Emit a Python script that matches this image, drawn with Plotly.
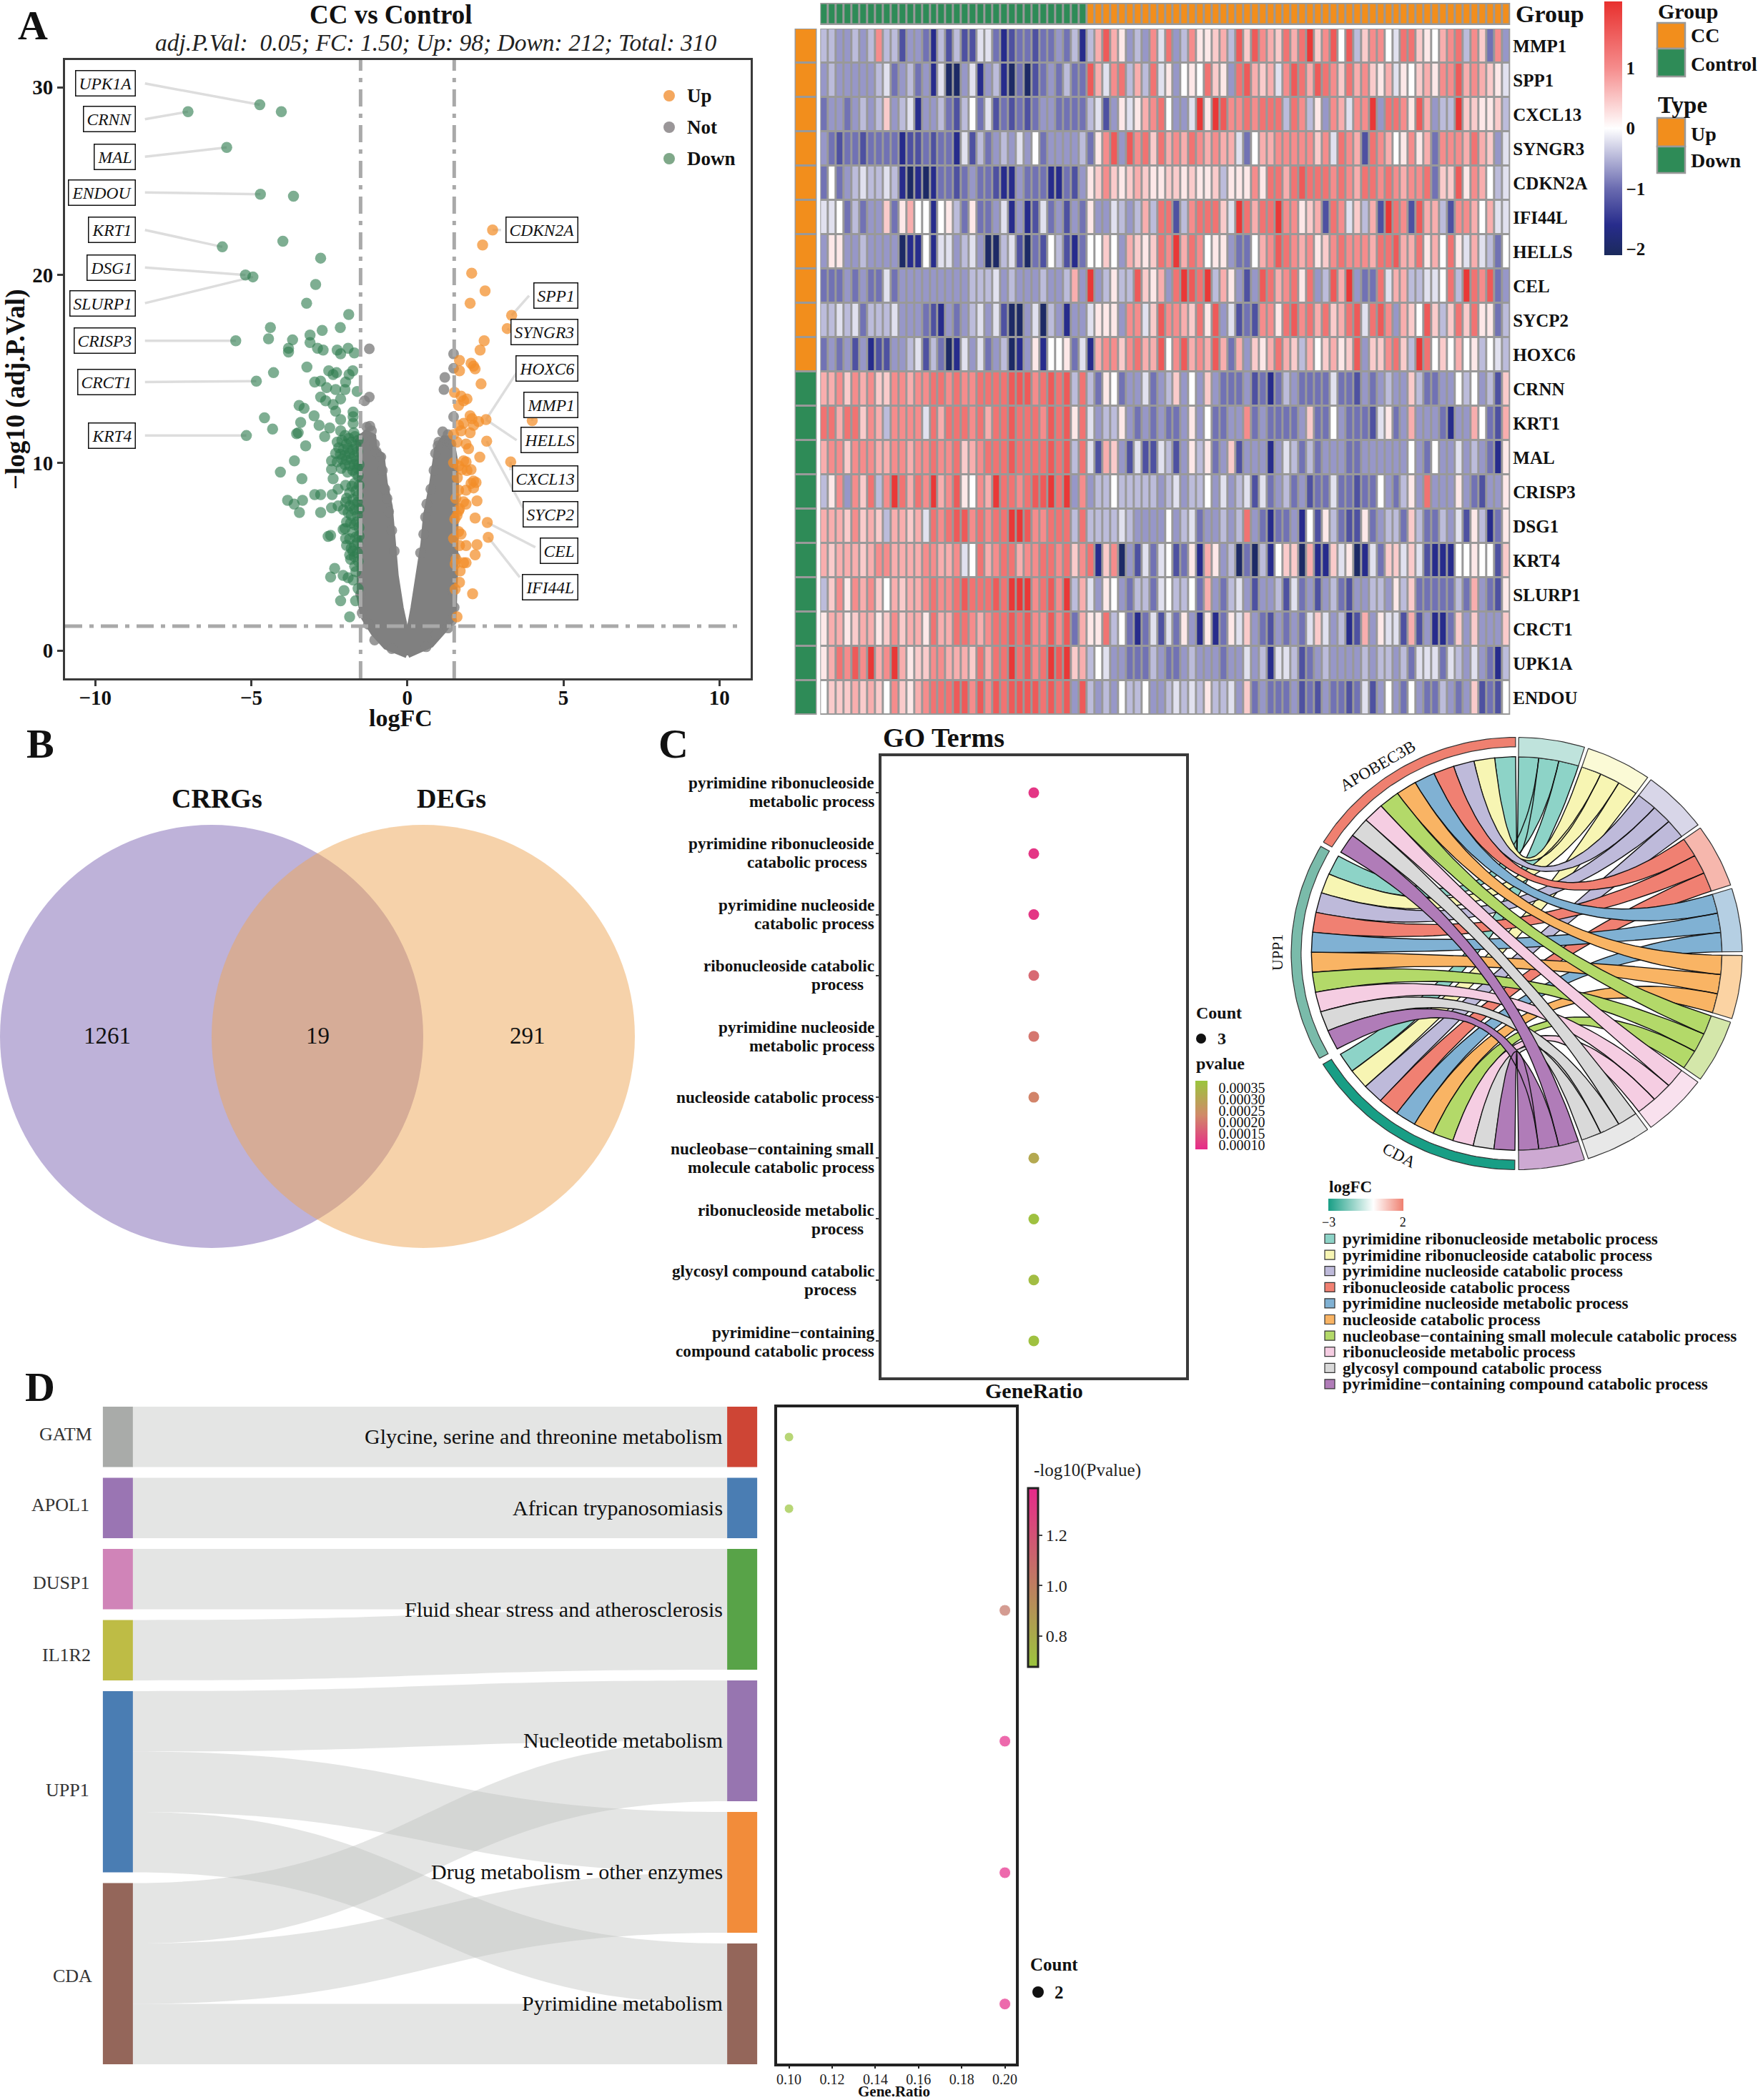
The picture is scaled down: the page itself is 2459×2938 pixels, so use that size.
import math
import plotly.graph_objects as go

W, H = 2459, 2938
SERIF = "Liberation Serif"

# ---------- Panel A: volcano data ----------
down_points = [
 (-4.73,29.07),(-4.04,28.7),(-7.03,28.7),(-5.79,26.8),(-4.71,24.3),(-3.65,24.2),(-5.93,21.5),(-3.99,21.8),(-2.78,20.9),
 (-5.19,20.0),(-4.95,19.9),(-2.94,19.5),(-3.23,18.5),(-1.88,17.9),(-2.15,17.2),(-2.73,17.05),(-4.39,17.2),(-4.45,16.6),
 (-5.5,16.5),(-3.12,16.8),(-3.68,16.55),(-3.12,16.4),(-3.81,16.1),(-3.81,15.9),(-2.88,16.1),(-2.7,16.0),(-2.25,16.0),
 (-2.14,15.8),(-1.9,16.1),(-1.7,15.85),(-3.22,15.1),(-4.29,14.8),(-2.52,14.9),(-2.38,14.7),(-2.27,14.8),(-1.75,14.9),
 (-1.87,14.7),(-1.98,14.3),(-2.97,14.3),(-2.78,14.35),(-2.59,14.0),(-2.3,13.9),(-2.0,13.9),(-1.61,13.8),(-2.78,13.5),
 (-2.62,13.3),(-2.14,13.4),(-2.38,13.1),(-3.47,13.05),(-3.31,12.9),(-2.3,12.75),(-1.74,12.7),(-1.74,12.45),(-2.99,12.5),
 (-4.58,12.4),(-2.14,12.3),(-3.42,12.15),(-1.74,12.1),(-2.83,12.0),(-2.49,11.85),(-4.32,11.8),(-2.14,11.7),(-3.55,11.55),
 (-3.5,11.6),(-2.65,11.4),(-5.16,11.45),(-4.84,14.35),(-3.26,10.9),(-3.62,10.1),(-2.43,10.1),(-2.43,9.65),(-4.07,9.5),
 (-3.38,9.15),(-2.38,9.15),(-1.98,8.8),(-2.22,8.6),(-2.97,8.3),(-2.78,8.3),(-2.41,8.3),(-3.84,8.0),(-3.36,8.0),(-3.63,7.8),
 (-3.46,7.35),(-2.78,7.35),(-2.43,7.6),(-2.22,7.7),(-1.98,7.9),
 (-2.25,11.1),(-2.1,11.2),(-1.95,11.0),(-1.8,11.1),(-1.65,10.9),(-2.2,10.8),(-2.05,10.7),(-1.9,10.75),(-1.75,10.7),
 (-1.6,10.6),(-2.3,10.5),(-2.15,10.45),(-2.0,10.4),(-1.85,10.5),(-1.7,10.35),(-2.1,10.2),(-1.95,10.15),(-1.8,10.2),
 (-1.62,10.1),(-2.0,9.9),(-1.85,9.85),(-1.7,9.9),(-1.6,9.7),(-2.25,10.05),(-1.75,9.6),
 (-1.7,8.9),(-1.65,8.5),(-1.85,8.4),(-1.95,8.1),(-1.75,8.05),(-1.6,7.9),(-1.85,7.7),(-1.7,7.5),(-2.05,7.5),(-1.6,7.2),
 (-1.8,7.2),(-1.95,6.85),(-1.7,6.7),(-2.0,6.5),(-1.75,6.3),(-1.55,6.1),(-1.85,5.95),(-1.95,5.6),(-1.7,5.6),(-1.75,5.3),
 (-1.6,5.2),(-1.85,5.1),(-1.82,6.8),(-2.06,6.45),(-2.54,6.08),(-2.46,6.13),(-1.98,5.96),(-2.33,4.37),(-2.46,3.92),
 (-2.06,4.0),(-1.74,3.75),(-1.9,3.88),(-1.58,3.3),(-2.03,3.19),(-2.14,2.65),(-1.66,2.65),(-1.85,1.79),(-1.69,4.49),(-1.82,4.86),
 (-1.58,9.3),(-1.66,9.45),(-1.92,9.5),(-2.12,9.7),(-1.55,8.8),(-1.78,8.75),(-1.58,8.25),(-1.72,7.75),(-1.55,7.55),(-1.9,7.35),
 (-1.62,6.85),(-1.55,6.55),(-1.65,6.05),(-1.6,5.75),(-1.8,5.45),(-1.58,4.75),(-1.65,4.2),(-1.7,5.0),(-1.55,9.9),(-1.68,11.4),
 (-1.88,11.3),(-2.0,11.45),(-1.58,11.2),(-1.72,11.6),
]
up_points = [
 (2.73,22.4),(2.41,21.6),(2.06,20.1),(2.49,19.15),(2.01,18.5),(3.34,17.85),(3.2,17.15),(2.46,16.5),(2.33,16.0),(1.67,15.45),
 (2.04,15.3),(2.12,15.15),(2.17,15.0),(1.67,14.9),(2.36,14.2),(1.51,13.75),(1.72,13.55),(1.91,13.4),(1.8,13.3),(1.64,13.05),
 (2.01,12.5),(2.07,12.35),(2.28,12.2),(2.52,12.3),(4.0,12.24),(1.8,12.1),(1.64,12.0),(2.12,12.0),(1.48,11.5),(1.72,11.7),
 (2.01,11.6),(2.54,11.15),(1.88,11.0),(1.59,11.1),(1.96,10.75),(2.32,10.3),(1.8,10.1),(3.31,10.05),(1.88,10.05),(1.48,10.0),
 (1.64,9.84),(2.04,9.64),(1.75,9.64),(1.91,9.59),(2.12,9.03),(2.04,8.9),(2.2,8.95),(2.12,8.66),(1.64,8.54),(1.88,8.54),
 (2.23,7.97),(1.8,7.92),(1.67,7.55),(1.88,7.8),(1.64,7.43),(2.17,7.06),(2.56,6.82),(1.59,7.19),(1.72,6.2),(2.59,6.03),
 (1.67,5.59),(1.88,5.59),(2.23,5.64),(2.17,5.1),(1.56,4.86),(1.8,4.68),(1.88,4.68),(1.53,4.61),(1.69,4.24),(1.67,3.63),
 (1.53,3.26),(2.09,3.02),(1.59,1.79),(1.64,6.33),(1.48,5.96),(1.55,8.1),(1.6,9.2),(1.52,7.0),
]
not_outline_left = [
 (-0.02,-0.25),(-0.69,0.2),(-1.09,0.93),(-1.41,1.79),(-1.53,2.77),(-1.53,5.22),(-1.53,7.68),(-1.53,10.13),(-1.58,11.2),
 (-1.33,11.6),(-1.09,11.4),(-1.05,10.74),(-0.82,10.38),(-0.72,8.9),(-0.56,7.68),(-0.45,5.7),(-0.37,4.0),(-0.21,2.28),(-0.02,0.81),
]
not_outline_right = [
 (0.02,-0.25),(0.76,0.3),(1.16,1.05),(1.48,1.79),(1.53,4.0),(1.56,6.5),(1.56,8.9),(1.53,10.13),(1.4,11.3),(1.16,11.3),
 (0.95,10.74),(0.79,8.9),(0.59,7.17),(0.51,5.7),(0.35,3.7),(0.19,2.28),(0.03,0.81),
]
not_points = [
 (-1.22,16.07),(-1.22,13.5),(-1.37,13.3),(1.48,15.8),(1.48,15.03),(1.2,14.55),(1.17,13.9),(1.48,12.45),(1.13,11.65),(1.01,11.1),
 (1.16,11.1),(-1.05,0.56),(0.92,0.86),(-1.3,11.9),(-1.15,11.7),(-1.0,10.6),(-0.85,10.3),(-0.8,9.6),(-0.72,8.6),(-0.65,8.1),
 (-0.6,7.4),(-0.5,6.4),(-0.42,5.3),(0.9,10.5),(0.85,9.6),(0.75,8.6),(0.62,7.8),(0.58,7.1),(0.52,6.2),(0.42,5.2),(-1.5,3.0),
 (-1.45,2.0),(-1.25,1.4),(1.5,2.3),(1.42,1.6),(1.3,1.2),(0.6,0.2),(-0.5,0.1),(1.45,3.2),(1.52,5.0),(-1.2,11.95),(-1.45,11.3),
 (-1.05,11.0),(1.3,11.5),(1.4,11.0),(0.98,10.9),
]
vline_values = [-1.5, 1.5]
hline_value = 1.3
left_labels = ["UPK1A","CRNN","MAL","ENDOU","KRT1","DSG1","SLURP1","CRISP3","CRCT1","KRT4"]
left_label_y = [30.2,28.3,26.3,24.4,22.4,20.4,18.5,16.5,14.3,11.45]
left_target = [(-4.73,29.07),(-7.03,28.7),(-5.79,26.8),(-4.71,24.3),(-5.93,21.5),(-5.19,20.0),(-4.95,19.9),(-5.5,16.5),(-4.84,14.35),(-5.16,11.45)]
right_labels = ["CDKN2A","SPP1","SYNGR3","HOXC6","MMP1","HELLS","CXCL13","SYCP2","CEL","IFI44L"]
right_label_y = [22.4,18.9,16.95,15.03,13.1,11.2,9.17,7.26,5.32,3.38]
right_target = [(2.73,22.4),(3.34,17.85),(3.2,17.15),(2.52,12.3),(4.0,12.24),(2.52,12.3),(3.31,10.05),(2.54,11.15),(2.56,6.82),(2.59,6.03)]
right_seg_end = [(3.0,22.4),(3.9,18.9),(3.4,16.95),(3.5,14.8),(4.0,12.7),(3.5,11.2),(3.3,9.6),(3.7,7.6),(4.1,5.5),(3.6,3.9)]

# ---------- Panel A: heatmap data ----------
genes = ["MMP1","SPP1","CXCL13","SYNGR3","CDKN2A","IFI44L","HELLS","CEL","SYCP2","HOXC6",
         "CRNN","KRT1","MAL","CRISP3","DSG1","KRT4","SLURP1","CRCT1","UPK1A","ENDOU"]
gene_type = ["Up"]*10 + ["Down"]*10
sample_group = ["Control"]*34 + ["CC"]*54
level_values = {"0":-2.0,"1":-1.6,"2":-1.25,"3":-0.95,"4":-0.7,"5":-0.45,"6":-0.2,"7":0.0,"8":0.2,
                "9":0.45,"a":0.7,"b":1.0,"c":1.3,"d":1.6,"e":2.0}
heat_MMP1 = "5544545b55"+"2443152522"+"6631233233"+"4351"+"5ada8454b6c45b889a5d9dba9cac"+"e9bd7d59bb76cc987abc5b93b4"
heat_SPP1 = "4544444563"+"4534160046"+"1451030234"+"3533"+"da6bc5a5c684787c984cda9a6bdc"+"adcb9cab98a6879a8bbdaba986"
heat_CXCL13 = "3443454594"+"5614453257"+"3623232344"+"3333"+"5624868abc7446e8edbbcbccc5cb"+"584ba6bbe4ccb8da455e998895"
heat_SYNGR3 = "4323323333"+"1223233162"+"5345464734"+"4445"+"38bd4dbc9cabacbabaa637aabbbb"+"b9b6cba2cba78b8a3bbbaca946"
heat_CDKN2A = "3734565565"+"1010133234"+"3321143331"+"1324"+"89b989a98899898895888b8ccacd"+"cccbcbaccbcbabbc399d8ba756"
heat_IFI44L = "6673534493"+"8a77178538"+"3346141263"+"4243"+"8446545a5cc25bccc96ecaccebb8"+"9a2cb695a2ecb2daa52bba7a66"
heat_HELLS = "4884454444"+"0117166456"+"4005620327"+"5213"+"77974a989cbeacb7884337abdcba"+"b89bcbbbaccdaac8a7c86a6537"
heat_CEL = "3334343363"+"4444444445"+"5564544454"+"45a4"+"e45855d98a4cedce5a8424dcabc8"+"c45dae433c6aa55667c5ecbd34"
heat_SYCP2 = "5565635556"+"4443214345"+"6462004605"+"4144"+"68884bb69dbba9c8d46232bb8cdb"+"cac9acd6cdb4a97d959c9c8835"
heat_HOXC6 = "3434241224"+"4562530164"+"6345014817"+"7836"+"1abb9bcaad7bdabada3a498aca95"+"a79a89d499bc95ec797a785765"
heat_CRNN = "aab9bab99b"+"babbccbcbb"+"ccccdddbcd"+"cd5c"+"5387344634594749433342313543"+"33363324345449533447574529"
heat_KRT1 = "ccacc9ba5b"+"bbb6cacccb"+"caccdcccbd"+"cd8c"+"64558434343348473344b3433334"+"9337433326834a4443144a732a"
heat_MAL = "abb9bbbaab"+"babbcbbc9a"+"bcccdccccd"+"cd5c"+"62a9426226524858349244414653"+"53444334444447437446454318"
heat_CRISP3 = "58b4b9c5be"+"cacbeabd87"+"baeccbcdde"+"ce4b"+"4557555554564557464562634534"+"233633233743584c4448432448"
heat_DSG1 = "aaa9b9a95a"+"a9a6cbcddb"+"cbcceedbbc"+"cc5c"+"55556544447456344545c4313341"+"72853228345539533546285138"
heat_KRT4 = "a9aaa9abba"+"aaabbaab67"+"cabccabbcc"+"bc9b"+"c19b04263672381a845030517990"+"a1196801639969621117787729"
heat_SLURP1 = "59b8bab97a"+"9aabcbbcdc"+"ccdceeebcd"+"be5a"+"648743553675573a435642445263"+"424532445548593333353a4328"
heat_CRCT1 = "8aa89aa89b"+"9aa8caaccb"+"abccdcdbbd"+"bd3a"+"88c5731362638418138694324343"+"6964512a48662a241139494449"
heat_UPK1A = "8acbdbeabe"+"a899bbaaa9"+"caccecdbce"+"de9a"+"5764433354334544434464516652"+"34544445455453666365464315"
heat_ENDOU = "7999a9a97b"+"98abcccddb"+"dbdcddddcd"+"cd4d"+"5454755744565658556493433342"+"32433236247437433543492327"
heat_rows = [heat_MMP1,heat_SPP1,heat_CXCL13,heat_SYNGR3,heat_CDKN2A,heat_IFI44L,heat_HELLS,heat_CEL,heat_SYCP2,heat_HOXC6,
             heat_CRNN,heat_KRT1,heat_MAL,heat_CRISP3,heat_DSG1,heat_KRT4,heat_SLURP1,heat_CRCT1,heat_UPK1A,heat_ENDOU]

# ---------- Panel B ----------
venn_sets = ["CRRGs","DEGs"]
venn_counts = [1261, 19, 291]

# ---------- Panel C ----------
go_labels = [["pyrimidine ribonucleoside","metabolic process"],["pyrimidine ribonucleoside","catabolic process"],
 ["pyrimidine nucleoside","catabolic process"],["ribonucleoside catabolic","process"],["pyrimidine nucleoside","metabolic process"],
 ["nucleoside catabolic process"],["nucleobase−containing small","molecule catabolic process"],["ribonucleoside metabolic","process"],
 ["glycosyl compound catabolic","process"],["pyrimidine−containing","compound catabolic process"]]
go_second_line_inset = [0,10,0,15,0,0,0,15,25,0]
go_ratio = [0.3]*10
go_pvalue = [0.0001,0.0001,0.0001,0.00018,0.00020,0.00022,0.00031,0.00037,0.00036,0.00037]
go_terms = ["pyrimidine ribonucleoside metabolic process","pyrimidine ribonucleoside catabolic process",
 "pyrimidine nucleoside catabolic process","ribonucleoside catabolic process","pyrimidine nucleoside metabolic process",
 "nucleoside catabolic process","nucleobase−containing small molecule catabolic process","ribonucleoside metabolic process",
 "glycosyl compound catabolic process","pyrimidine−containing compound catabolic process"]
term_colors = ["#8DD3C7","#F7F5B3","#BEBADA","#F08072","#80B1D3","#F9B464","#B3D969","#F5CDE2","#D9D9D9","#B07CB8"]
term_band_colors = ["#BFE3DC","#FBFAD6","#D8D6E8","#F6B7AD","#B5CFE3","#FBD3A3","#D4E7AA","#F9E1EE","#E8E8E8","#CDA9D2"]
chord_genes = ["APOBEC3B","UPP1","CDA"]
chord_logfc = [2.0,-1.4,-3.0]
chord_gene_colors = ["#EF8070","#7ABBAA","#189E85"]
chord_gene_start = [301.0,241.0,180.5]
chord_gene_span = 58.7

# ---------- Panel D ----------
sankey_nodes_left = ["GATM","APOL1","DUSP1","IL1R2","UPP1","CDA"]
sankey_nodes_right = ["Glycine, serine and threonine metabolism","African trypanosomiasis","Fluid shear stress and atherosclerosis",
                      "Nucleotide metabolism","Drug metabolism - other enzymes","Pyrimidine metabolism"]
sankey_source = [0,1,2,3,4,4,4,5,5,5]
sankey_target = [6,7,8,8,9,10,11,9,10,11]
sankey_value = [1]*10
sankey_left_size = [1,1,1,1,3,3]
sankey_right_size = [1,1,2,2,2,2]
sankey_colors = ["#A9ABA9","#9A75B3","#D084B8","#BEBC45","#4A7DB3","#94665A","#CE4535","#4A7DB3","#58A348","#9775B0","#F28C3A","#94665A"]
kegg_ratio = [0.10,0.10,0.20,0.20,0.20,0.20]
kegg_logp = [0.68,0.68,1.05,1.38,1.38,1.38]
kegg_count = [1,1,2,2,2,2]
kegg_pos = [2010.5,2110.7,2253,2436,2620,2803.7]

# ---------- helpers ----------
fig = go.Figure()
annotations, shapes = [], []

def px(x): return x / W
def py(y): return 1 - y / H

def text(x, y, s, size, bold=False, anchor="left", color="#111", italic=False, angle=0, family=SERIF, vanchor="middle"):
    annotations.append(dict(x=px(x), y=py(y), xref="paper", yref="paper", text=s, showarrow=False, xanchor=anchor,
                            yanchor=vanchor, textangle=angle, borderpad=0,
                            font=dict(family=family, size=size, color=color, weight=700 if bold else 400,
                                      style="italic" if italic else "normal")))

def rect(x0, y0, x1, y1, fill, line="rgba(0,0,0,0)", lw=0, layer="above"):
    shapes.append(dict(type="rect", xref="paper", yref="paper", x0=px(x0), x1=px(x1), y0=py(y0), y1=py(y1),
                       fillcolor=fill, line=dict(color=line, width=lw), layer=layer))

def circle(cx, cy, rx, fill, ry=None, layer="above"):
    ry = rx if ry is None else ry
    shapes.append(dict(type="circle", xref="paper", yref="paper", x0=px(cx-rx), x1=px(cx+rx), y0=py(cy-ry), y1=py(cy+ry),
                       fillcolor=fill, line=dict(width=0), layer=layer))

def axes(n, x0, y0, x1, y1, xkw, ykw):
    sx = "" if n == 1 else str(n)
    base = dict(showgrid=False, zeroline=False)
    fig.update_layout(**{
        f"xaxis{sx}": dict(base, domain=[px(x0), px(x1)], anchor=f"y{sx}", **xkw),
        f"yaxis{sx}": dict(base, domain=[py(y1), py(y0)], anchor=f"x{sx}", **ykw),
    })

hidden = dict(visible=False)
def framed(color="#3a3a3a", width=3):
    return dict(showline=True, linecolor=color, linewidth=width, mirror=True)

# ---------- A: volcano ----------
axes(1, 91, 84, 1050, 949,
     dict(range=[-10.97, 11.0], tickvals=[-10,-5,0,5,10], ticks="outside", ticklen=8, tickwidth=3, tickcolor="#3a3a3a", ticklabelstandoff=-9,
          tickfont=dict(family=SERIF, size=29, color="#111", weight=700), **framed()),
     dict(range=[-1.48, 31.45], tickvals=[0,10,20,30], ticks="outside", ticklen=8, tickwidth=3, tickcolor="#3a3a3a",
          tickfont=dict(family=SERIF, size=29, color="#111", weight=700), **framed()))

segx, segy = [], []
for (tx, ty), ly in zip(left_target, left_label_y):
    segx += [-8.41, tx, None]; segy += [ly, ty, None]
for (tx, ty), (ex, ey) in zip(right_target, right_seg_end):
    segx += [tx, ex, None]; segy += [ty, ey, None]
fig.add_trace(go.Scatter(x=segx, y=segy, mode="lines", line=dict(color="#DDDDDD", width=3.5), hoverinfo="skip", showlegend=False))
for outline in (not_outline_left, not_outline_right):
    ox, oy = zip(*outline)
    fig.add_trace(go.Scatter(x=list(ox)+[ox[0]], y=list(oy)+[oy[0]], mode="lines", fill="toself", fillcolor="#808080",
                             line=dict(color="#808080", width=8), hoverinfo="skip", showlegend=False))
nx, ny = zip(*not_points)
fig.add_trace(go.Scatter(x=nx, y=ny, mode="markers", marker=dict(size=15, color="rgba(128,128,128,0.8)"), hoverinfo="skip", showlegend=False))
dx, dy = zip(*down_points)
fig.add_trace(go.Scatter(x=dx, y=dy, mode="markers", marker=dict(size=15.5, color="rgba(46,125,79,0.62)"), hoverinfo="skip", showlegend=False))
ux, uy = zip(*up_points)
fig.add_trace(go.Scatter(x=ux, y=uy, mode="markers", marker=dict(size=15.5, color="rgba(243,142,40,0.72)"), hoverinfo="skip", showlegend=False))
DASH = "24px,10px,6px,10px"
vx, vy = [], []
for v in vline_values:
    vx += [v, v, None]; vy += [-1.48, 31.45, None]
fig.add_trace(go.Scatter(x=vx, y=vy, mode="lines", line=dict(color="#A9A9A9", width=5, dash=DASH), hoverinfo="skip", showlegend=False))
fig.add_trace(go.Scatter(x=[-10.97, 10.7], y=[hline_value]*2, mode="lines", line=dict(color="#A9A9A9", width=5, dash=DASH), hoverinfo="skip", showlegend=False))
for names, ys, xr in ((left_labels, left_label_y, -8.7), (right_labels, right_label_y, 5.47)):
    for name, ly in zip(names, ys):
        annotations.append(dict(x=xr, y=ly, xref="x", yref="y", text=name, showarrow=False, xanchor="right", yanchor="middle",
                                bgcolor="white", bordercolor="#111", borderwidth=1.5, borderpad=4,
                                font=dict(family=SERIF, size=23.5, style="italic", color="#111")))
text(24, 35, "A", 58, True)
text(547, 21, "CC vs Control", 37, True, "center")
text(610, 60, "adj.P.Val:  0.05; FC: 1.50; Up: 98; Down: 212; Total: 310", 33.5, False, "center", italic=True, color="#222")
text(560, 1004, "logFC", 34, True, "center")
text(22, 545, "−log10 (adj.P.Val)", 37, True, "center", angle=-90)
for yy, name, col in ((134, "Up", "#F4A75E"), (178, "Not", "#9A9698"), (222, "Down", "#7FA889")):
    circle(936, yy, 8, col)
    text(960, yy, name, 27, True)

# ---------- A: heatmap ----------
HX0, HX1 = 1147.3, 2112.3
rect(HX0, 40, HX1, 1000, "#999999", layer="below")
rect(HX0, 4, HX1, 35, "#999999", layer="below")
rect(1111.5, 40, 1142.5, 1000, "#999999", layer="below")
z_main = [[level_values[c] for c in r] for r in heat_rows]
heat_scale = [[0,"#1B2A5C"],[0.119,"#272C8C"],[0.262,"#6A6BB0"],[0.5,"#FFFFFF"],[0.738,"#F58C8C"],[1,"#E8302E"]]
fig.add_trace(go.Heatmap(z=z_main, x=list(range(88)), y=genes, xaxis="x2", yaxis="y2", colorscale=heat_scale, zmin=-2.1, zmax=2.1,
                         xgap=3, ygap=3, hoverinfo="skip",
                         colorbar=dict(x=px(2244), xanchor="left", y=py(2), yanchor="top", xpad=0, ypad=0, len=355, lenmode="pixels",
                                       thickness=25, thicknessmode="pixels", outlinewidth=0, tickvals=[-2,-1,0,1,2], ticks="",
                                       tickfont=dict(family=SERIF, size=25, color="#111", weight=700))))
axes(2, HX0, 40, HX1, 1000, hidden,
     dict(side="right", autorange="reversed", type="category", ticks="", showline=False, ticklabelstandoff=3,
          tickfont=dict(family=SERIF, size=25, color="#111", weight=700)))
ann_scale = [[0,"#2E8B57"],[1,"#F28E1C"]]
fig.add_trace(go.Heatmap(z=[[1 if g == "CC" else 0 for g in sample_group]], x=list(range(88)), xaxis="x3", yaxis="y3", colorscale=ann_scale,
                         zmin=0, zmax=1, xgap=3, ygap=1, showscale=False, hoverinfo="skip"))
axes(3, HX0, 5.5, HX1, 33.5, hidden, hidden)
fig.add_trace(go.Heatmap(z=[[1 if t == "Up" else 0] for t in gene_type], y=genes, x=[0], xaxis="x4", yaxis="y4", colorscale=ann_scale,
                         zmin=0, zmax=1, xgap=0, ygap=3, showscale=False, hoverinfo="skip"))
axes(4, 1113, 40, 1141, 1000, hidden, dict(visible=False, autorange="reversed", type="category"))
text(2119, 20, "Group", 34, True)
text(2318, 15, "Group", 30, True)
rect(2318, 32, 2357, 68, "#F28E1C", "#999999", 2.5)
rect(2318, 68, 2357, 107, "#2E8B57", "#999999", 2.5)
text(2364, 50, "CC", 28, True)
text(2364, 90, "Control", 28, True)
text(2318, 147, "Type", 33, True)
rect(2318, 165, 2357, 205, "#F28E1C", "#999999", 2.5)
rect(2318, 205, 2357, 242, "#2E8B57", "#999999", 2.5)
text(2364, 187, "Up", 28, True)
text(2364, 224, "Down", 28, True)

# ---------- B: venn ----------
circle(296, 1450, 296, "#BEB2D9")
circle(592, 1450, 296, "rgba(237,165,85,0.5)")
text(303, 1117, venn_sets[0], 38, True, "center")
text(631, 1117, venn_sets[1], 38, True, "center")
for xx, c in zip((150, 444, 738), venn_counts):
    text(xx, 1449, str(c), 33, False, "center")
text(56, 1040, "B", 58, True, "center")

# ---------- C: GO dot plot ----------
axes(6, 1233, 1058, 1659, 1927, dict(visible=True, showticklabels=False, ticks="", range=[0.2, 0.4], **framed(width=4)),
     dict(autorange=False, range=[9.6, -0.6], tickvals=list(range(10)), showticklabels=False, ticks="outside", ticklen=4, tickwidth=2,
          tickcolor="#3a3a3a", **framed(width=4)))
fig.add_trace(go.Scatter(x=go_ratio, y=list(range(10)), mode="markers", xaxis="x6", yaxis="y6", hoverinfo="skip", showlegend=False,
                         marker=dict(size=15, color=go_pvalue, cmin=0.00008, cmax=0.00038,
                                     colorscale=[[0,"#E7298A"],[0.5,"#D08A68"],[1,"#9BC53D"]],
                                     colorbar=dict(x=px(1672), xanchor="left", y=py(1512), yanchor="top", xpad=0, ypad=0, len=96, lenmode="pixels",
                                                   thickness=17, thicknessmode="pixels", outlinewidth=0, ticks="outside", ticklen=12, tickcolor="rgba(0,0,0,0)",
                                                   tickvals=[0.0001,0.00015,0.0002,0.00025,0.0003,0.00035],
                                                   ticktext=["0.00010","0.00015","0.00020","0.00025","0.00030","0.00035"],
                                                   tickfont=dict(family=SERIF, size=20, color="#111")))))
for i, lines in enumerate(go_labels):
    cy = 1108 + i * 85.4
    if len(lines) == 1:
        text(1224, cy, lines[0], 23.2, True, "right")
    else:
        text(1224, cy - 13, lines[0], 23.2, True, "right")
        text(1224 - go_second_line_inset[i], cy + 13, lines[1], 23.2, True, "right")
text(1234, 1032, "GO Terms", 38, True)
text(1446, 1945, "GeneRatio", 30, True, "center")
text(942, 1040, "C", 58, True, "center")
text(1672, 1417, "Count", 24, True)
circle(1680, 1453, 7, "#111")
text(1702, 1453, "3", 24, True)
text(1672, 1488, "pvalue", 24, True)

# ---------- C: chord ----------
CX, CY, RX, RY = 2121.5, 1334, 315.5, 302.5
X0, X1, Y0, Y1 = 1790, 2453, 1020, 1648
axes(7, X0, Y0, X1, Y1, dict(visible=False, range=[(X0-CX)/RX, (X1-CX)/RX]), dict(visible=False, range=[(CY-Y1)/RY, (CY-Y0)/RY]))

def pt(theta, r):
    t = math.radians(theta)
    return r * math.sin(t), r * math.cos(t)

def arc(t0, t1, r, n=12):
    return [pt(t0 + (t1 - t0) * i / n, r) for i in range(n + 1)]

def bez(p0, p1, n=40):
    out = []
    for i in range(n + 1):
        s = i / n
        out.append(((1 - s) ** 2 * p0[0] + s ** 2 * p1[0], (1 - s) ** 2 * p0[1] + s ** 2 * p1[1]))
    return out

R_IN = 0.91
gene_slice = chord_gene_span / 10
for ti, term in enumerate(go_terms):
    tstart = ti * 18 + 0.5
    xs, ys = [], []
    for gi in range(3):
        a0 = tstart + gi * 17 / 3
        a1 = a0 + 17 / 3
        g0 = chord_gene_start[gi] + (9 - ti) * gene_slice
        g1 = g0 + gene_slice
        poly = arc(a0, a1, R_IN) + bez(pt(a1, R_IN), pt(g0, R_IN)) + arc(g0, g1, R_IN) + bez(pt(g1, R_IN), pt(a0, R_IN))
        xs += [p[0] for p in poly] + [poly[0][0], None]
        ys += [p[1] for p in poly] + [poly[0][1], None]
    fig.add_trace(go.Scatter(x=xs, y=ys, mode="lines", fill="toself", fillcolor=term_colors[ti], line=dict(color="#111", width=1.4),
                             xaxis="x7", yaxis="y7", hoverinfo="skip", showlegend=False))
    band = arc(tstart, tstart + 17, 1.0) + arc(tstart + 17, tstart, R_IN)
    fig.add_trace(go.Scatter(x=[p[0] for p in band]+[band[0][0]], y=[p[1] for p in band]+[band[0][1]], mode="lines", fill="toself",
                             fillcolor=term_band_colors[ti], line=dict(color="#333", width=1.2), xaxis="x7", yaxis="y7", hoverinfo="skip", showlegend=False))
for gi, g in enumerate(chord_genes):
    s = chord_gene_start[gi]
    band = arc(s, s + chord_gene_span, 1.0, 40) + arc(s + chord_gene_span, s, 0.956, 40)
    fig.add_trace(go.Scatter(x=[p[0] for p in band]+[band[0][0]], y=[p[1] for p in band]+[band[0][1]], mode="lines", fill="toself",
                             fillcolor=chord_gene_colors[gi], line=dict(color="#333", width=1.2), xaxis="x7", yaxis="y7", hoverinfo="skip", showlegend=False))
fig.add_trace(go.Scatter(x=[0,0,0], y=[0,0,0], mode="markers", xaxis="x7", yaxis="y7", hoverinfo="skip", showlegend=False,
                         marker=dict(size=0.1, color=chord_logfc, cmin=-3, cmax=2,
                                     colorscale=[[0,"#189E85"],[0.6,"#FFFFFF"],[1,"#EF8070"]],
                                     colorbar=dict(orientation="h", x=px(1858), xanchor="left", y=py(1677), yanchor="top", xpad=0, ypad=0,
                                                   len=105, lenmode="pixels", thickness=17, thicknessmode="pixels", outlinewidth=0, ticks="",
                                                   tickvals=[-2.97,1.97], ticktext=["−3","2"], tickfont=dict(family=SERIF, size=18, color="#111")))))
text(1927, 1071, "APOBEC3B", 23, False, "center", angle=-30)
text(1786, 1333, "UPP1", 22, False, "center", angle=-90)
text(1957, 1616, "CDA", 23, False, "center", angle=28)
text(1858, 1660, "logFC", 23, True)
for i, term in enumerate(go_terms):
    yy = 1733 + i * 22.6
    rect(1853, yy - 6.5, 1867, yy + 6.5, term_colors[i], "#333", 1.2)
    text(1877, yy, term, 23.2, True)

# ---------- D: sankey ----------
SX0, SX1, SY0, SY1, THICK, PAD = 143, 1060, 1968, 2888, 42, 15
SPAN = SY1 - SY0
unit = (SPAN - 5 * PAD) / 10
def centers(sizes):
    out, top = [], 0.0
    for s in sizes:
        out.append((top + s * unit / 2) / SPAN)
        top += s * unit + PAD
    return out
node_y = centers(sankey_left_size) + centers(sankey_right_size)
fig.add_trace(go.Sankey(arrangement="fixed", domain=dict(x=[px(SX0 + THICK/2), px(SX1 - THICK/2)], y=[py(SY1), py(SY0)]), hoverinfo="skip",
                        node=dict(pad=PAD, thickness=THICK, label=[""]*12, color=sankey_colors, line=dict(width=0),
                                  x=[0.001]*6 + [0.999]*6, y=node_y, hoverinfo="skip"),
                        link=dict(source=sankey_source, target=sankey_target, value=sankey_value, color="rgba(190,193,190,0.42)", hoverinfo="skip")))
for y, name, rr in zip((2006,2105,2214,2315,2504,2764), sankey_nodes_left, (130,126,126,128,126,130)):
    text(rr, y, name, 26, False, "right", color="#333")
for y, name in zip((2009,2109,2251,2434,2618,2802), sankey_nodes_right):
    text(1012, y, name, 30, False, "right", color="#111")
text(56, 1940, "D", 58, True, "center")

# ---------- D: dot plot ----------
axes(8, 1087, 1969, 1421, 2887,
     dict(range=[0.0945, 0.2051], tickvals=[0.10,0.12,0.14,0.16,0.18,0.20], tickformat=".2f", ticks="outside", ticklen=3, tickwidth=2, tickcolor="#222", ticklabelstandoff=-2,
          tickfont=dict(family=SERIF, size=20, color="#222"), **framed("#222", 4)),
     dict(range=[2887, 1969], showticklabels=False, ticks="", **framed("#222", 4)))
fig.add_trace(go.Scatter(x=kegg_ratio, y=kegg_pos, mode="markers", xaxis="x8", yaxis="y8", hoverinfo="skip", showlegend=False,
                         marker=dict(size=[13 if c == 1 else 16 for c in kegg_count], color=kegg_logp, cmin=0.678, cmax=1.387,
                                     colorscale=[[0,"#9BC53D"],[1,"#E7298A"]],
                                     colorbar=dict(x=px(1438), xanchor="left", y=py(2082), yanchor="top", xpad=0, ypad=0, len=250, lenmode="pixels",
                                                   thickness=14, thicknessmode="pixels", outlinewidth=3, outlinecolor="#222",
                                                   tickvals=[0.8,1.0,1.2], ticktext=["0.8","1.0","1.2"], ticks="outside", ticklen=5, tickwidth=2,
                                                   tickfont=dict(family=SERIF, size=24, color="#222")))))
text(1250, 2926, "Gene.Ratio", 21, True, "center")
text(1445, 2057, "-log10(Pvalue)", 25, False, color="#222")
text(1440, 2748, "Count", 25, True)
circle(1452, 2787, 8, "#111")
text(1474, 2787, "2", 25, True)

fig.update_layout(width=W, height=H, margin=dict(l=0, r=0, t=0, b=0, autoexpand=False), paper_bgcolor="white", plot_bgcolor="rgba(0,0,0,0)",
                  showlegend=False, annotations=annotations, shapes=shapes, hovermode=False)
fig.write_html("out.html", config=dict(displayModeBar=False), post_script="document.body.style.margin='0';")
